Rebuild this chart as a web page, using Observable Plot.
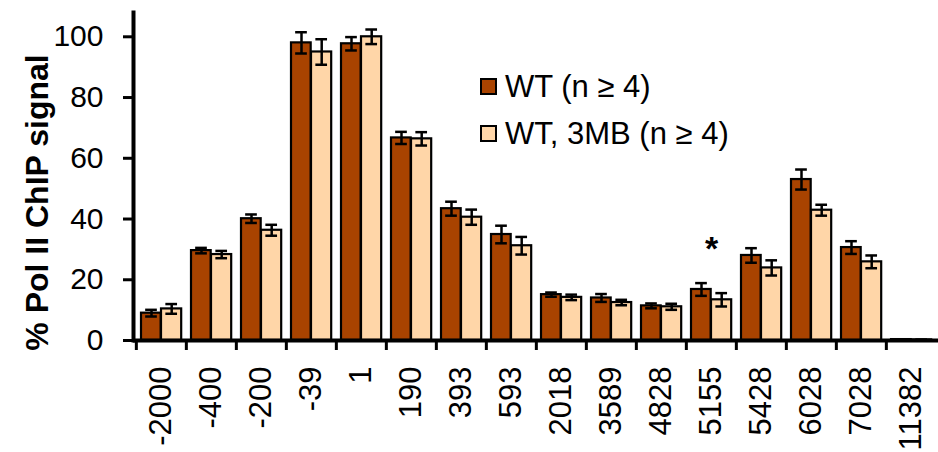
<!DOCTYPE html>
<html>
<head>
<meta charset="utf-8">
<script src="https://cdn.jsdelivr.net/npm/d3@7"></script>
<script src="https://cdn.jsdelivr.net/npm/@observablehq/plot@0.6"></script>
<style>
  html, body { margin: 0; padding: 0; background: #fff; }
  #wrap { position: relative; width: 938px; height: 452px; font-family: "Liberation Sans", Arial, sans-serif; }
  #legend { position: absolute; left: 480px; top: 63px; font-size: 31px; color: #000; }
  .row { display: flex; align-items: center; height: 47px; }
  .sw { width: 13px; height: 13px; border: 2px solid #000; margin-right: 8px; }
</style>
</head>
<body>
<div id="wrap"><div id="legend"></div></div>
<script>
const categories = ["-2000","-400","-200","-39","1","190","393","593","2018","3589","4828","5155","5428","6028","7028","11382"];
const wtValues  = [9.0, 29.6, 40.1, 98.0, 97.7, 66.7, 43.4, 34.9, 15.1, 14.0, 11.4, 16.8, 28.0, 53.0, 30.6, 0.3];
const wtErrors  = [1.1, 0.9, 1.4, 3.5, 2.2, 2.0, 2.3, 2.9, 0.7, 1.3, 0.8, 2.1, 2.4, 3.3, 2.1, 0.1];
const mbValues  = [10.4, 28.3, 36.3, 95.0, 100.0, 66.4, 40.6, 31.2, 14.2, 12.5, 11.1, 13.4, 23.9, 42.9, 25.9, 0.2];
const mbErrors  = [1.6, 1.2, 1.8, 4.2, 2.4, 2.2, 2.5, 2.9, 0.9, 0.9, 1.0, 2.2, 2.5, 1.8, 2.1, 0.1];
const seriesNames = ["WT (n \u2265 4)", "WT, 3MB (n \u2265 4)"];
const seriesColors = ["#A94300", "#FFD6A8"];
const yTicks = [0, 20, 40, 60, 80, 100];
const yTitle = "% Pol II ChIP signal";
const significant = ["5155"];

const W = 938, H = 452, mL = 133, mR = 0, mT = 12, mB = 112;
const step = (W - mL - mR) / categories.length;

const rows = categories.map((c, i) => ({
  cat: c,
  wt: wtValues[i], wtLo: wtValues[i] - wtErrors[i], wtHi: wtValues[i] + wtErrors[i],
  mb: mbValues[i], mbLo: mbValues[i] - mbErrors[i], mbHi: mbValues[i] + mbErrors[i]
}));
const stars = rows.filter(r => significant.includes(r.cat))
  .map(r => ({cat: r.cat, y: Math.max(r.wtHi, r.mbHi)}));

const capInset = (step - 12) / 2;
const errStyle = {stroke: "#000", strokeWidth: 2.5};

const chart = Plot.plot({
  width: W, height: H,
  marginLeft: mL, marginRight: mR, marginTop: mT, marginBottom: mB,
  style: {fontFamily: "'Liberation Sans', Arial, sans-serif", fontSize: "30px", color: "#000", background: "#fff", overflow: "hidden"},
  x: {type: "band", domain: categories, padding: 0, axis: null},
  y: {domain: [0, 108], axis: null},
  marks: [
    Plot.barY(rows, {x: "cat", y: "wt", fill: seriesColors[0], stroke: "#000", strokeWidth: 2.2, insetLeft: 5, insetRight: step - 25}),
    Plot.barY(rows, {x: "cat", y: "mb", fill: seriesColors[1], stroke: "#000", strokeWidth: 2.2, insetLeft: 25, insetRight: step - 45.5}),
    Plot.ruleX(rows, {x: "cat", y1: "wtLo", y2: "wtHi", dx: -10, ...errStyle}),
    Plot.tickY(rows, {x: "cat", y: "wtHi", dx: -10, inset: capInset, ...errStyle}),
    Plot.tickY(rows, {x: "cat", y: "wtLo", dx: -10, inset: capInset, ...errStyle}),
    Plot.ruleX(rows, {x: "cat", y1: "mbLo", y2: "mbHi", dx: 10.2, ...errStyle}),
    Plot.tickY(rows, {x: "cat", y: "mbHi", dx: 10.2, inset: capInset, ...errStyle}),
    Plot.tickY(rows, {x: "cat", y: "mbLo", dx: 10.2, inset: capInset, ...errStyle}),
    Plot.text(stars, {x: "cat", y: "y", text: () => "*", dy: -23, lineAnchor: "bottom", fontSize: 34, fontWeight: "bold"}),
    Plot.axisY({ticks: yTicks, tickSize: 10, tickPadding: 20, strokeWidth: 3, fontSize: 30, label: null}),
    Plot.axisX({tickSize: 10, dx: -step / 2, strokeWidth: 3, fill: "none", label: null}),
    Plot.axisX({tickSize: 0, tickPadding: 26, tickRotate: -90, fontSize: 31, label: null}),
    Plot.ruleY([0], {stroke: "#000", strokeWidth: 4}),
    Plot.frame({anchor: "left", stroke: "#000", strokeWidth: 4}),
    Plot.text([yTitle], {frameAnchor: "left", rotate: -90, dx: -86, dy: 26, textAnchor: "middle", lineAnchor: "bottom", fontSize: 32, fontWeight: "bold", text: d => d})
  ]
});
document.getElementById("wrap").prepend(chart);

const legend = document.getElementById("legend");
seriesNames.forEach((name, i) => {
  const row = document.createElement("div");
  row.className = "row";
  const sw = document.createElement("div");
  sw.className = "sw";
  sw.style.background = seriesColors[i];
  const label = document.createElement("span");
  label.textContent = name;
  row.append(sw, label);
  legend.append(row);
});
</script>
</body>
</html>
